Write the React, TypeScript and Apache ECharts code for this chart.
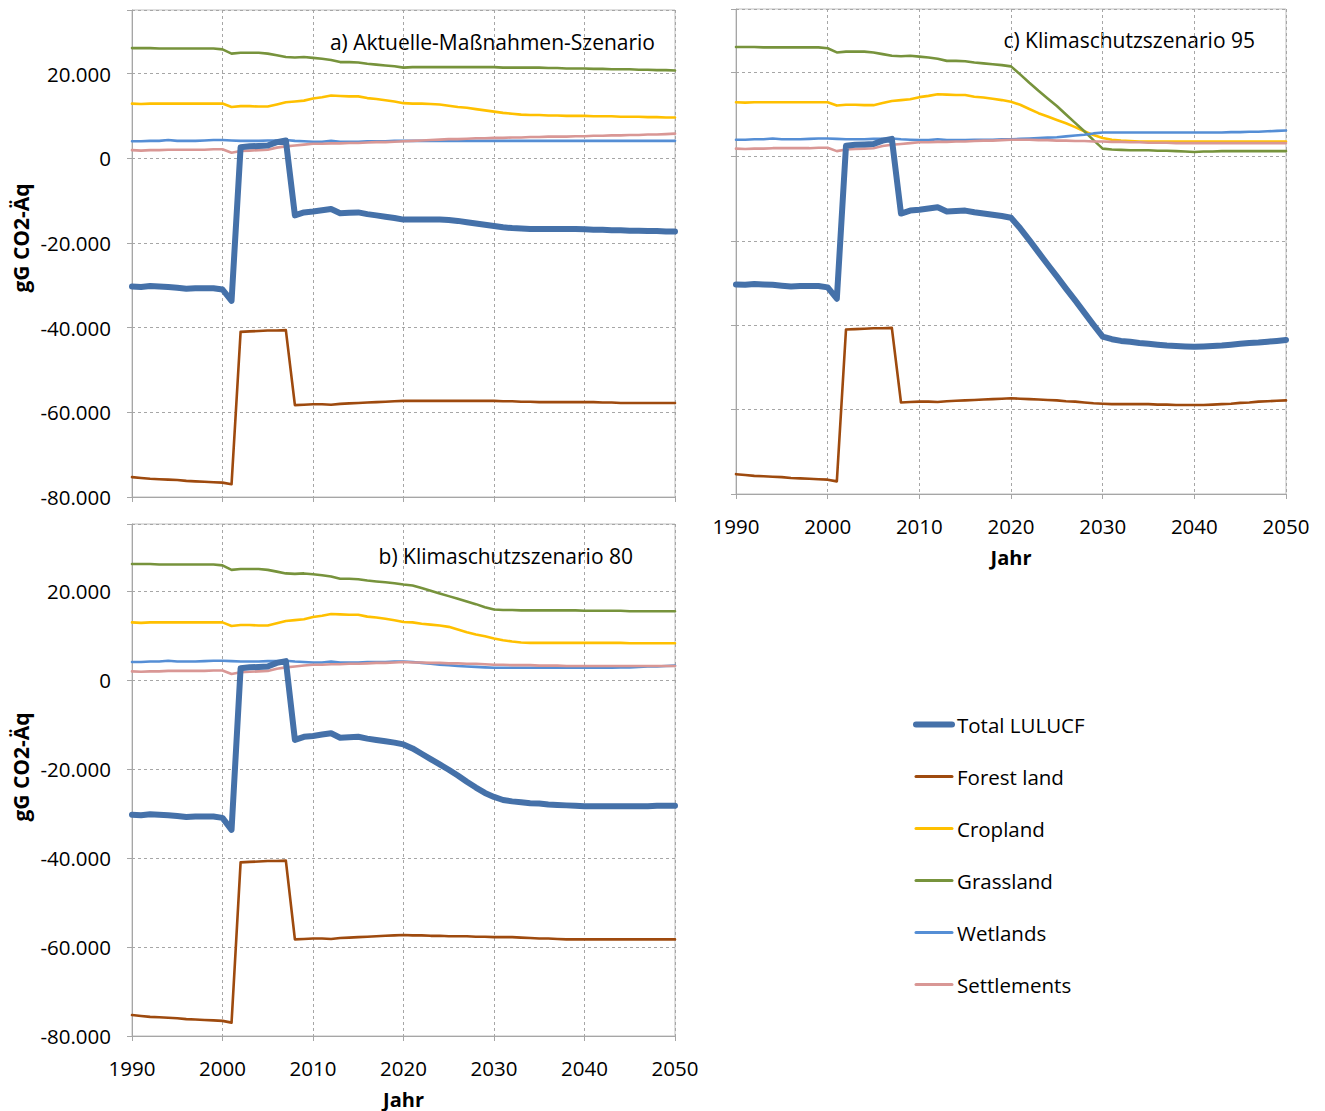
import React, { useEffect, useRef } from 'react';
import * as echarts from 'echarts';

const years = [
  1990, 1991, 1992, 1993, 1994, 1995, 1996, 1997, 1998, 1999,
  2000, 2001, 2002, 2003, 2004, 2005, 2006, 2007, 2008, 2009,
  2010, 2011, 2012, 2013, 2014, 2015, 2016, 2017, 2018, 2019,
  2020, 2021, 2022, 2023, 2024, 2025, 2026, 2027, 2028, 2029,
  2030, 2031, 2032, 2033, 2034, 2035, 2036, 2037, 2038, 2039,
  2040, 2041, 2042, 2043, 2044, 2045, 2046, 2047, 2048, 2049, 2050,
];

const seriesNames = ['Total LULUCF', 'Forest land', 'Cropland', 'Grassland', 'Wetlands', 'Settlements'];
const seriesColors = ['#4571A9', '#9E4A0E', '#FFC000', '#77933C', '#558ED5', '#D99795'];

// History 1990-2020 (shared by all scenarios)
const histTotal = [
  -30300, -30400, -30200, -30300, -30400, -30600, -30800, -30700, -30700, -30700,
  -31000, -33700, 2600, 2800, 2900, 3000, 3800, 4200, -13500, -12800,
  -12600, -12300, -12000, -13000, -12900, -12800, -13200, -13500, -13800, -14100, -14500,
];
const histForest = [
  -75300, -75500, -75700, -75800, -75900, -76000, -76200, -76300, -76400, -76500,
  -76600, -77000, -41000, -40900, -40800, -40700, -40700, -40600, -58300, -58200,
  -58100, -58100, -58200, -58000, -57900, -57800, -57700, -57600, -57500, -57400, -57300,
];
const histCrop = [
  12900, 12800, 12900, 12900, 12900, 12900, 12900, 12900, 12900, 12900,
  12900, 12100, 12300, 12300, 12200, 12200, 12700, 13200, 13400, 13600,
  14100, 14400, 14800, 14700, 14600, 14600, 14200, 14000, 13700, 13400, 13000,
];
const histGrass = [
  26000, 26000, 26000, 25900, 25900, 25900, 25900, 25900, 25900, 25900,
  25700, 24700, 24900, 24900, 24900, 24700, 24300, 23900, 23800, 23900,
  23700, 23500, 23200, 22700, 22700, 22600, 22300, 22100, 21900, 21700, 21400,
];
const histWet = [
  4000, 4000, 4100, 4100, 4300, 4100, 4100, 4100, 4200, 4300,
  4300, 4200, 4100, 4100, 4100, 4200, 4200, 4300, 4100, 4000,
  3900, 3900, 4100, 3900, 3900, 3900, 4000, 4000, 4000, 4100, 4100,
];
const histSettle = [
  1900, 1800, 1900, 1900, 2000, 2000, 2000, 2000, 2000, 2100,
  2100, 1300, 1700, 1800, 1900, 2000, 2500, 2800, 3000, 3200,
  3400, 3400, 3500, 3500, 3600, 3600, 3700, 3800, 3800, 3900, 4000,
];

// a) Aktuelle-Maßnahmen-Szenario, 2021-2050
const amsTotal = [
  -14500, -14500, -14500, -14500, -14600, -14800, -15100, -15400, -15700, -16000,
  -16300, -16500, -16600, -16700, -16700, -16700, -16700, -16700, -16700, -16800,
  -16900, -16900, -17000, -17000, -17100, -17100, -17200, -17200, -17300, -17300,
];
const amsForest = [
  -57300, -57300, -57300, -57300, -57300, -57300, -57300, -57300, -57300, -57300,
  -57400, -57400, -57500, -57500, -57600, -57600, -57600, -57600, -57600, -57600,
  -57600, -57700, -57700, -57800, -57800, -57800, -57800, -57800, -57800, -57800,
];
const amsCrop = [
  12900, 12900, 12800, 12700, 12400, 12100, 11900, 11600, 11300, 11000,
  10700, 10500, 10300, 10200, 10200, 10100, 10100, 10000, 10000, 10000,
  9900, 9900, 9900, 9800, 9800, 9800, 9700, 9700, 9600, 9600,
];
const amsGrass = [
  21500, 21500, 21500, 21500, 21500, 21500, 21500, 21500, 21500, 21500,
  21400, 21400, 21400, 21400, 21400, 21300, 21300, 21200, 21200, 21200,
  21100, 21100, 21000, 21000, 21000, 20900, 20900, 20800, 20800, 20700,
];
const amsWet = [
  4100, 4100, 4100, 4100, 4100, 4100, 4100, 4100, 4100, 4100,
  4100, 4100, 4100, 4100, 4100, 4100, 4100, 4100, 4100, 4100,
  4100, 4100, 4100, 4100, 4100, 4100, 4100, 4100, 4100, 4100,
];
const amsSettle = [
  4100, 4200, 4300, 4400, 4500, 4500, 4600, 4700, 4700, 4800,
  4800, 4900, 4900, 5000, 5000, 5100, 5100, 5100, 5200, 5200,
  5300, 5300, 5400, 5400, 5500, 5500, 5600, 5600, 5700, 5800,
];

// b) Klimaschutzszenario 80, 2021-2050
const ks80Total = [
  -15400, -16600, -17800, -19000, -20200, -21500, -22900, -24200, -25400, -26300,
  -27000, -27300, -27500, -27700, -27800, -28000, -28100, -28200, -28300, -28400,
  -28400, -28400, -28400, -28400, -28400, -28400, -28400, -28300, -28300, -28300,
];
const ks80Forest = [
  -57400, -57400, -57500, -57500, -57600, -57600, -57600, -57700, -57700, -57800,
  -57800, -57800, -57900, -58000, -58100, -58100, -58200, -58300, -58300, -58300,
  -58300, -58300, -58300, -58300, -58300, -58300, -58300, -58300, -58300, -58300,
];
const ks80Crop = [
  12900, 12600, 12400, 12200, 11900, 11300, 10700, 10200, 9800, 9300,
  8900, 8600, 8400, 8300, 8300, 8300, 8300, 8300, 8300, 8300,
  8300, 8300, 8300, 8300, 8200, 8200, 8200, 8200, 8200, 8200,
];
const ks80Grass = [
  21200, 20600, 20000, 19400, 18800, 18200, 17600, 17000, 16300, 15800,
  15700, 15700, 15600, 15600, 15600, 15600, 15600, 15600, 15600, 15500,
  15500, 15500, 15500, 15500, 15400, 15400, 15400, 15400, 15400, 15400,
];
const ks80Wet = [
  4000, 3800, 3600, 3400, 3300, 3100, 3000, 2900, 2800, 2700,
  2700, 2700, 2700, 2700, 2700, 2700, 2700, 2700, 2700, 2700,
  2700, 2700, 2700, 2800, 2800, 2900, 3000, 3000, 3100, 3200,
];
const ks80Settle = [
  3900, 3900, 3800, 3800, 3700, 3700, 3600, 3600, 3500, 3400,
  3400, 3300, 3300, 3300, 3200, 3200, 3200, 3100, 3100, 3100,
  3100, 3100, 3100, 3100, 3100, 3100, 3100, 3100, 3100, 3100,
];

// c) Klimaschutzszenario 95, 2021-2050
const ks95Total = [
  -17000, -19800, -22700, -25600, -28400, -31300, -34100, -37000, -39900, -42700,
  -43300, -43700, -43900, -44200, -44400, -44600, -44800, -44900, -45000, -45100,
  -45000, -44900, -44800, -44600, -44400, -44200, -44100, -43900, -43700, -43500,
];
const ks95Forest = [
  -57400, -57500, -57600, -57700, -57800, -58000, -58100, -58300, -58500, -58600,
  -58700, -58700, -58700, -58700, -58700, -58800, -58800, -58900, -58900, -58900,
  -58900, -58800, -58700, -58600, -58400, -58300, -58100, -58000, -57900, -57800,
];
const ks95Crop = [
  12300, 11300, 10300, 9500, 8700, 7900, 7000, 6000, 5100, 4400,
  4000, 3800, 3700, 3600, 3600, 3600, 3600, 3600, 3600, 3600,
  3600, 3600, 3600, 3600, 3600, 3600, 3600, 3600, 3600, 3600,
];
const ks95Grass = [
  19500, 17500, 15600, 13800, 12000, 10000, 8000, 6000, 3900, 1900,
  1700, 1600, 1500, 1500, 1500, 1400, 1400, 1300, 1200, 1100,
  1200, 1200, 1300, 1300, 1300, 1300, 1300, 1300, 1300, 1300,
];
const ks95Wet = [
  4200, 4300, 4400, 4500, 4600, 4800, 5000, 5200, 5500, 5700,
  5700, 5700, 5700, 5700, 5700, 5700, 5700, 5700, 5700, 5700,
  5700, 5700, 5700, 5800, 5800, 5900, 5900, 6000, 6100, 6200,
];
const ks95Settle = [
  4000, 4000, 3900, 3900, 3800, 3800, 3700, 3700, 3600, 3600,
  3500, 3500, 3400, 3400, 3300, 3300, 3300, 3200, 3200, 3200,
  3200, 3200, 3200, 3200, 3200, 3200, 3200, 3200, 3200, 3200,
];

const panelTitles = ['a) Aktuelle-Maßnahmen-Szenario', 'b) Klimaschutzszenario 80', 'c) Klimaschutzszenario 95'];
const yTitle = 'gG CO2-Äq';
const xTitle = 'Jahr';

const FONT = '"Open Sans", "Noto Sans", sans-serif';

const history = [histTotal, histForest, histCrop, histGrass, histWet, histSettle];
const scenarios = [
  [amsTotal, amsForest, amsCrop, amsGrass, amsWet, amsSettle],
  [ks80Total, ks80Forest, ks80Crop, ks80Grass, ks80Wet, ks80Settle],
  [ks95Total, ks95Forest, ks95Crop, ks95Grass, ks95Wet, ks95Settle],
];

function fmt(v: number): string {
  if (v % 20000 !== 0) return '';
  if (v === 0) return '0';
  const s = Math.abs(v).toString().replace(/\B(?=(\d{3})+(?!\d))/g, '.');
  return (v < 0 ? '-' : '') + s;
}

export default function App() {
  const ref = useRef<HTMLDivElement>(null);
  useEffect(() => {
    document.body.style.margin = '0';
    const chart = echarts.init(ref.current!, undefined, { renderer: 'svg' });

    // grid layout: [a, b, c]
    const grids = [
      { left: 132, top: 10, width: 543, height: 487 },
      { left: 132, top: 524, width: 543, height: 512 },
      { left: 736, top: 9, width: 550, height: 485 },
    ];
    const showXLabels = [false, true, true];
    const showYLabels = [true, true, false];

    const gridLine = { color: '#A6A6A6', width: 1, type: [3, 3] as any };
    const axisCol = '#A6A6A6';

    const xAxes = grids.map((_, i) => ({
      type: 'value',
      gridIndex: i,
      min: 1990,
      max: 2050,
      interval: 10,
      axisLine: { show: true, onZero: false, lineStyle: { color: axisCol } },
      axisTick: { show: true, length: 5, lineStyle: { color: axisCol } },
      axisLabel: {
        show: showXLabels[i],
        margin: 21,
        fontFamily: FONT,
        fontSize: 20.5,
        color: '#000',
        formatter: (v: number) => String(v),
      },
      splitLine: { show: true, lineStyle: gridLine },
      name: showXLabels[i] ? xTitle : '',
      nameLocation: 'middle',
      nameGap: 53,
      nameTextStyle: { fontFamily: FONT, fontSize: 20, fontWeight: 'bold', color: '#000' },
    }));

    const yAxes = grids.map((_, i) => ({
      type: 'value',
      gridIndex: i,
      min: -80000,
      max: 35000,
      interval: 20000,
      axisLine: { show: true, lineStyle: { color: axisCol } },
      axisTick: { show: true, length: 5, lineStyle: { color: axisCol } },
      axisLabel: {
        show: showYLabels[i],
        margin: 21,
        fontFamily: FONT,
        fontSize: 20.5,
        color: '#000',
        formatter: fmt,
      },
      splitLine: { show: true, lineStyle: gridLine },
    }));

    const series: any[] = [];
    scenarios.forEach((sc, gi) => {
      sc.forEach((proj, si) => {
        const full = history[si].concat(proj);
        series.push({
          type: 'line',
          name: seriesNames[si],
          xAxisIndex: gi,
          yAxisIndex: gi,
          data: years.map((y, k) => [y, full[k]]),
          symbol: 'none',
          smooth: false,
          z: si === 0 ? 3 : 2,
          lineStyle: {
            color: seriesColors[si],
            width: si === 0 ? 6 : 2.6,
            cap: 'round',
            join: 'round',
          },
          itemStyle: { color: seriesColors[si] },
        });
      });
    });

    const titlePos = [
      { x: 655, y: 42 },
      { x: 633, y: 556 },
      { x: 1255, y: 40 },
    ];

    const graphic: any[] = [];
    panelTitles.forEach((t, i) => {
      graphic.push({
        type: 'text',
        x: titlePos[i].x,
        y: titlePos[i].y,
        style: {
          text: t,
          font: `21px ${FONT}`,
          fill: '#000',
          textAlign: 'right',
          textVerticalAlign: 'middle',
        },
      });
    });
    [238, 767].forEach((cy) => {
      graphic.push({
        type: 'text',
        x: 21,
        y: cy,
        rotation: Math.PI / 2,
        style: {
          text: yTitle,
          font: `bold 21px ${FONT}`,
          fill: '#000',
          textAlign: 'center',
          textVerticalAlign: 'middle',
        },
      });
    });

    chart.setOption({
      animation: false,
      backgroundColor: '#fff',
      grid: grids.map((g) => ({ ...g, show: true, borderColor: '#BFBFBF', borderWidth: 1, backgroundColor: 'transparent' })),
      xAxis: xAxes,
      yAxis: yAxes,
      series,
      graphic,
      legend: {
        orient: 'vertical',
        left: 913,
        top: 714,
        padding: 0,
        itemWidth: 36,
        itemHeight: 24,
        itemGap: 31,
        itemStyle: { opacity: 0 },
        data: seriesNames.map((n, i) => ({
          name: n,
          lineStyle: { width: i === 0 ? 6 : 3, cap: 'round', color: seriesColors[i] },
          itemStyle: { opacity: 0 },
        })),
        textStyle: { fontFamily: FONT, fontSize: 20.5, color: '#000' },
      },
    });
    return () => chart.dispose();
  }, []);
  return <div ref={ref} style={{ width: 1325, height: 1111 }} />;
}
